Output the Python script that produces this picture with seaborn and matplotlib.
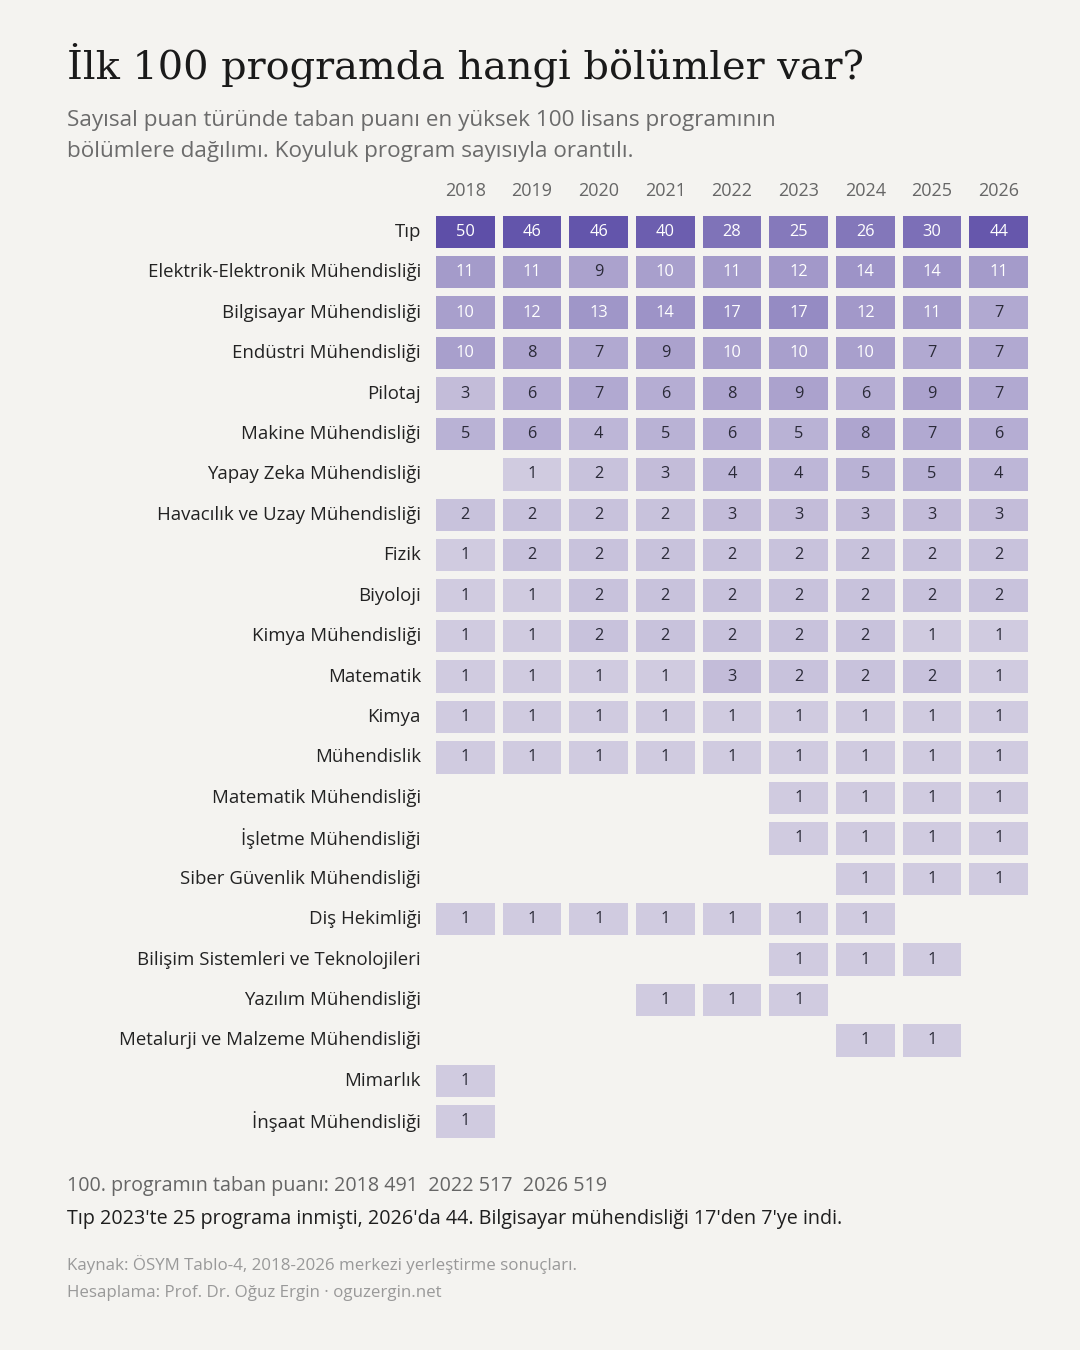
import numpy as np
import pandas as pd
import matplotlib
matplotlib.use("Agg")
import matplotlib.pyplot as plt
import seaborn as sns
from matplotlib.colors import LinearSegmentedColormap, PowerNorm

nan = np.nan

years = ["2018", "2019", "2020", "2021", "2022", "2023", "2024", "2025", "2026"]

programs = [
    "Tıp",
    "Elektrik-Elektronik Mühendisliği",
    "Bilgisayar Mühendisliği",
    "Endüstri Mühendisliği",
    "Pilotaj",
    "Makine Mühendisliği",
    "Yapay Zeka Mühendisliği",
    "Havacılık ve Uzay Mühendisliği",
    "Fizik",
    "Biyoloji",
    "Kimya Mühendisliği",
    "Matematik",
    "Kimya",
    "Mühendislik",
    "Matematik Mühendisliği",
    "İşletme Mühendisliği",
    "Siber Güvenlik Mühendisliği",
    "Diş Hekimliği",
    "Bilişim Sistemleri ve Teknolojileri",
    "Yazılım Mühendisliği",
    "Metalurji ve Malzeme Mühendisliği",
    "Mimarlık",
    "İnşaat Mühendisliği",
]

counts = [
    [50, 46, 46, 40, 28, 25, 26, 30, 44],
    [11, 11, 9, 10, 11, 12, 14, 14, 11],
    [10, 12, 13, 14, 17, 17, 12, 11, 7],
    [10, 8, 7, 9, 10, 10, 10, 7, 7],
    [3, 6, 7, 6, 8, 9, 6, 9, 7],
    [5, 6, 4, 5, 6, 5, 8, 7, 6],
    [nan, 1, 2, 3, 4, 4, 5, 5, 4],
    [2, 2, 2, 2, 3, 3, 3, 3, 3],
    [1, 2, 2, 2, 2, 2, 2, 2, 2],
    [1, 1, 2, 2, 2, 2, 2, 2, 2],
    [1, 1, 2, 2, 2, 2, 2, 1, 1],
    [1, 1, 1, 1, 3, 2, 2, 2, 1],
    [1, 1, 1, 1, 1, 1, 1, 1, 1],
    [1, 1, 1, 1, 1, 1, 1, 1, 1],
    [nan, nan, nan, nan, nan, 1, 1, 1, 1],
    [nan, nan, nan, nan, nan, 1, 1, 1, 1],
    [nan, nan, nan, nan, nan, nan, 1, 1, 1],
    [1, 1, 1, 1, 1, 1, 1, nan, nan],
    [nan, nan, nan, nan, nan, 1, 1, 1, nan],
    [nan, nan, nan, 1, 1, 1, nan, nan, nan],
    [nan, nan, nan, nan, nan, nan, 1, 1, nan],
    [1, nan, nan, nan, nan, nan, nan, nan, nan],
    [1, nan, nan, nan, nan, nan, nan, nan, nan],
]

df = pd.DataFrame(counts, index=programs, columns=years)

bg = "#f4f3f0"
sans = ["Open Sans", "DejaVu Sans"]

sns.set_theme(style="white")
plt.rcParams["font.family"] = sans

cmap = LinearSegmentedColormap.from_list("purp", ["#e3dfe9", "#5e4fa8"])

fig = plt.figure(figsize=(10.8, 13.5), dpi=100, facecolor=bg)
ax = fig.add_axes([0.4, 0.1544, 0.5556, 0.6889])
ax.set_facecolor(bg)

sns.heatmap(df, ax=ax, cmap=cmap, norm=PowerNorm(gamma=0.5, vmin=0, vmax=50),
            cbar=False, linewidths=4.6, linecolor=bg,
            annot=True, fmt=".0f", annot_kws={"fontsize": 11.8})

# white numbers on the darker cells
for t in ax.texts:
    v = int(t.get_text())
    t.set_color("white" if v >= 10 else "#2a2a38")

ax.xaxis.tick_top()
ax.set_xlabel("")
ax.set_ylabel("")
ax.tick_params(axis="x", length=0, pad=8, labelsize=13, labelcolor="#666666")
ax.tick_params(axis="y", length=0, pad=8, labelsize=13.4, labelcolor="#222222")
plt.setp(ax.get_yticklabels(), rotation=0)
plt.setp(ax.get_xticklabels(), rotation=0)
for s in ax.spines.values():
    s.set_visible(False)

fig.text(0.062, 0.9415, "İlk 100 programda hangi bölümler var?", fontsize=28.7,
         family=["DejaVu Serif"], color="#1a1a1a", va="baseline")
fig.text(0.062, 0.9105, "Sayısal puan türünde taban puanı en yüksek 100 lisans programının",
         fontsize=16.2, color="#6b6b6b", va="center")
fig.text(0.062, 0.888, "bölümlere dağılımı. Koyuluk program sayısıyla orantılı.",
         fontsize=16.2, color="#6b6b6b", va="center")

fig.text(0.062, 0.1215, "100. programın taban puanı: 2018 491  2022 517  2026 519",
         fontsize=14.2, color="#666666", va="center")
fig.text(0.062, 0.097, "Tıp 2023'te 25 programa inmişti, 2026'da 44. Bilgisayar mühendisliği 17'den 7'ye indi.",
         fontsize=14.2, color="#1e1e1e", va="center")
fig.text(0.062, 0.0635, "Kaynak: ÖSYM Tablo-4, 2018-2026 merkezi yerleştirme sonuçları.",
         fontsize=12.2, color="#999999", va="center")
fig.text(0.062, 0.042, "Hesaplama: Prof. Dr. Oğuz Ergin · oguzergin.net",
         fontsize=12.2, color="#999999", va="center")

fig.savefig("out.png", dpi=100, facecolor=bg)
